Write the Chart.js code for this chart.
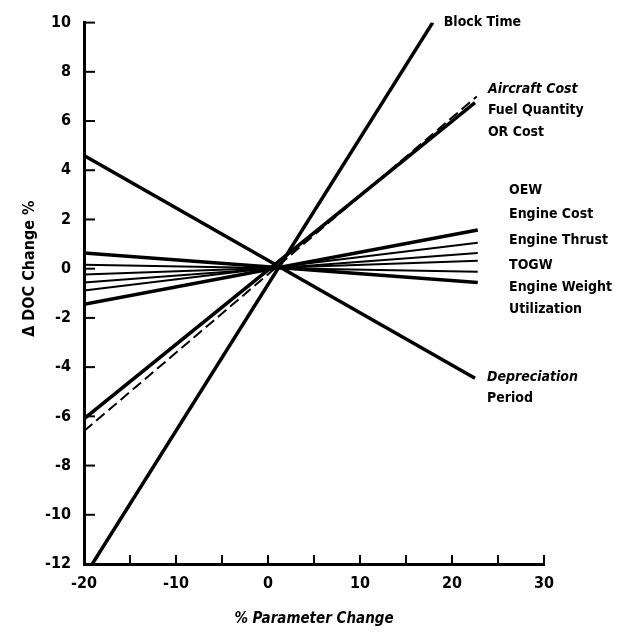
<!DOCTYPE html>
<html>
<head>
<meta charset="utf-8">
<script src="https://cdn.jsdelivr.net/npm/chart.js@4"></script>
<style>
  html, body { margin: 0; padding: 0; background: #fff; }
  #wrap { width: 623px; height: 632px; }
</style>
</head>
<body>
<div id="wrap"><canvas id="doc-chart" width="623" height="632"></canvas></div>
<script>
// sensitivity of DOC to parameter change
const blockTime    = [[-19.1, -12.0], [17.9, 10.0]];
const aircraftCost = [[-20, -6.1], [22.5, 6.75]];
const fuelQuantity = [[-20, -6.6], [22.7, 7.0]];
const depreciation = [[-20, 4.6], [22.5, -4.45]];
const oew          = [[-20, -1.45], [22.8, 1.57]];
const engineCost   = [[-20, -0.89], [22.8, 1.05]];
const engineThrust = [[-20, -0.56], [22.8, 0.64]];
const togw         = [[-20, -0.24], [22.8, 0.32]];
const engineWeight = [[-20, 0.16], [22.8, -0.12]];
const utilization  = [[-20, 0.64], [22.8, -0.56]];

const xMin = -20, xMax = 30, xStep = 5;
const yMin = -12, yMax = 10, yStep = 2;

// text labels beside the line ends (data coords of left edge / middle of text)
const labelText = ["Block Time", "Aircraft Cost", "Fuel Quantity", "OR Cost",
  "OEW", "Engine Cost", "Engine Thrust", "TOGW", "Engine Weight", "Utilization",
  "Depreciation", "Period"];
const labelX = [19.1, 23.9, 23.9, 23.9, 26.2, 26.2, 26.2, 26.2, 26.2, 26.2, 23.8, 23.8];
const labelY = [10.0, 7.3, 6.45, 5.55, 3.2, 2.2, 1.15, 0.15, -0.75, -1.65, -4.4, -5.25];
const labelItalic = [false, true, false, false, false, false, false, false, false, false, true, false];

const FONT = "'DejaVu Sans Condensed', 'Liberation Sans Narrow', Arial, sans-serif";

function pts(arr) {
  return arr.map(p => ({ x: p[0], y: p[1] }));
}

function line(data, width, dash) {
  return {
    data: pts(data),
    showLine: true,
    borderColor: "#000",
    borderWidth: width,
    borderDash: dash || [],
    pointRadius: 0,
    fill: false
  };
}

const innerTicks = {
  id: "innerTicks",
  afterDraw(chart) {
    const ctx = chart.ctx;
    const xs = chart.scales.x, ys = chart.scales.y;
    const a = chart.chartArea;
    ctx.save();
    ctx.strokeStyle = "#000";
    ctx.lineWidth = 2;
    ys.ticks.forEach(t => {
      const py = ys.getPixelForValue(t.value);
      ctx.beginPath();
      ctx.moveTo(a.left, py);
      ctx.lineTo(a.left + 11, py);
      ctx.stroke();
    });
    xs.ticks.forEach(t => {
      const px = xs.getPixelForValue(t.value);
      ctx.beginPath();
      ctx.moveTo(px, a.bottom);
      ctx.lineTo(px, a.bottom - 9);
      ctx.stroke();
    });
    // side labels
    ctx.fillStyle = "#000";
    ctx.textBaseline = "middle";
    ctx.textAlign = "left";
    labelText.forEach((s, i) => {
      ctx.font = (labelItalic[i] ? "italic " : "") + "bold 14px " + FONT;
      ctx.fillText(s, xs.getPixelForValue(labelX[i]), ys.getPixelForValue(labelY[i]));
    });
    // y axis title, centred on the zero line like the original
    ctx.font = "bold 16px " + FONT;
    ctx.textAlign = "center";
    ctx.translate(30, ys.getPixelForValue(0));
    ctx.rotate(-Math.PI / 2);
    ctx.fillText("\u0394 DOC Change %", 0, 0);
    ctx.restore();
  }
};

new Chart(document.getElementById("doc-chart"), {
  type: "scatter",
  data: {
    datasets: [
      line(blockTime, 3.5),
      line(aircraftCost, 3.5),
      line(fuelQuantity, 2, [11, 5]),
      line(depreciation, 3.5),
      line(oew, 3.5),
      line(engineCost, 2),
      line(engineThrust, 2),
      line(togw, 2),
      line(engineWeight, 2),
      line(utilization, 3.5)
    ]
  },
  options: {
    responsive: false,
    animation: false,
    events: [],
    layout: { padding: { top: 17, right: 79, left: 0, bottom: 0 } },
    plugins: {
      legend: { display: false },
      tooltip: { enabled: false },
      title: { display: false }
    },
    scales: {
      x: {
        type: "linear",
        min: xMin, max: xMax,
        grid: { display: false, drawTicks: false },
        border: { display: true, color: "#000", width: 3 },
        ticks: {
          stepSize: xStep,
          color: "#000",
          padding: 10,
          font: { family: FONT, size: 16, weight: "bold" },
          callback: v => (v % 10 === 0 ? String(v) : "")
        },
        title: {
          display: true,
          text: "% Parameter Change",
          color: "#000",
          padding: { top: 14 },
          font: { family: FONT, size: 15, weight: "bold", style: "italic" }
        },
        afterFit(s) { s.height = 68; }
      },
      y: {
        type: "linear",
        min: yMin, max: yMax,
        grid: { display: false, drawTicks: false },
        border: { display: true, color: "#000", width: 3 },
        ticks: {
          stepSize: yStep,
          color: "#000",
          padding: 13,
          font: { family: FONT, size: 16, weight: "bold" }
        },
        afterFit(s) { s.width = 84; }
      }
    }
  },
  plugins: [innerTicks]
});
</script>
</body>
</html>
